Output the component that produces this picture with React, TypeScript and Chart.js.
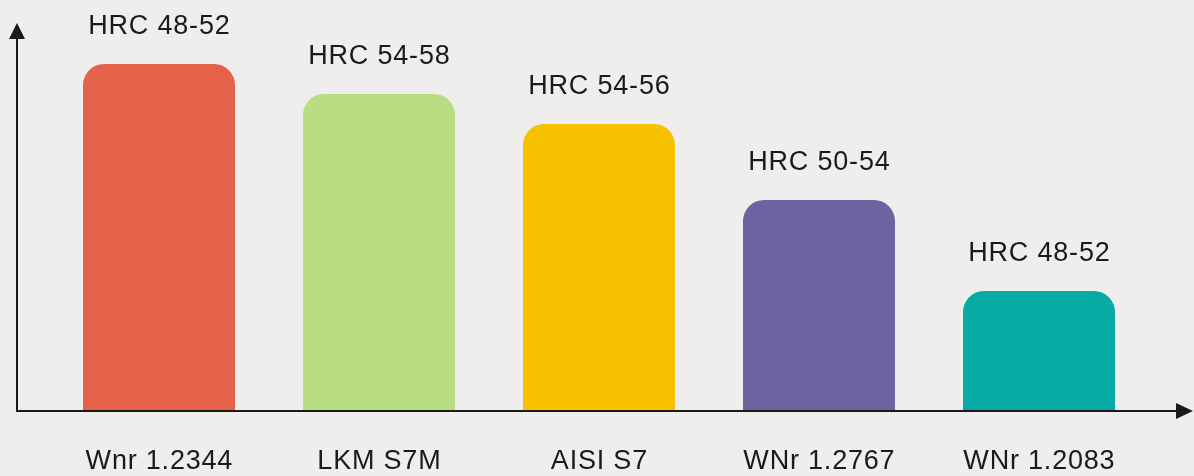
import React, { useEffect, useRef } from "react";
import { Chart, registerables } from "chart.js";

Chart.register(...registerables);

const categories = ["Wnr 1.2344", "LKM S7M", "AISI S7", "WNr 1.2767", "WNr 1.2083"];
const hardnessLabels = ["HRC 48-52", "HRC 54-58", "HRC 54-56", "HRC 50-54", "HRC 48-52"];
const values = [347, 317, 287, 211, 120];
const barColors = ["#e4614a", "#b8dd82", "#f6c200", "#6f62a0", "#06aba6"];

const BG = "#efeeed";
const INK = "#1c191a";
const FONT = "27px 'Liberation Sans', Arial, sans-serif";
const LS = 0.8;

const overlayPlugin = {
  id: "overlay",
  afterDatasetsDraw(chart: any) {
    const ctx = chart.ctx as CanvasRenderingContext2D;
    const xScale = chart.scales.x;
    const yScale = chart.scales.y;
    const y0 = yScale.getPixelForValue(0);
    const meta = chart.getDatasetMeta(0);

    // axes
    ctx.save();
    ctx.strokeStyle = INK;
    ctx.fillStyle = INK;
    ctx.lineWidth = 2;
    const axisX = 17;
    ctx.beginPath();
    ctx.moveTo(axisX, y0);
    ctx.lineTo(axisX, 36);
    ctx.moveTo(axisX - 1, y0);
    ctx.lineTo(1180, y0);
    ctx.stroke();
    // y arrow
    ctx.beginPath();
    ctx.moveTo(axisX, 23);
    ctx.lineTo(axisX - 8, 39);
    ctx.lineTo(axisX + 8, 39);
    ctx.closePath();
    ctx.fill();
    // x arrow
    ctx.beginPath();
    ctx.moveTo(1193, y0);
    ctx.lineTo(1176, y0 - 8);
    ctx.lineTo(1176, y0 + 8);
    ctx.closePath();
    ctx.fill();

    // labels
    ctx.font = FONT;
    (ctx as any).letterSpacing = LS + "px";
    ctx.textAlign = "center";
    ctx.textBaseline = "alphabetic";
    meta.data.forEach((bar: any, i: number) => {
      const cx = xScale.getPixelForValue(i) + LS / 2;
      ctx.fillText(hardnessLabels[i], cx, bar.y - 30);
      ctx.fillText(categories[i], cx, y0 + 58);
    });
    ctx.restore();
  },
};

export default function App() {
  const ref = useRef<HTMLCanvasElement | null>(null);
  useEffect(() => {
    document.body.style.margin = "0";
    document.body.style.background = BG;
    const chart = new Chart(ref.current as HTMLCanvasElement, {
      type: "bar",
      data: {
        labels: categories,
        datasets: [
          {
            data: values,
            backgroundColor: barColors,
            borderWidth: 0,
            borderRadius: { topLeft: 21, topRight: 21, bottomLeft: 0, bottomRight: 0 },
            borderSkipped: false,
            barPercentage: 1,
            categoryPercentage: 152 / 220,
          },
        ],
      },
      options: {
        animation: false,
        responsive: false,
        maintainAspectRatio: false,
        layout: { padding: { left: 49, right: 45, top: 23, bottom: 65 } },
        plugins: { legend: { display: false }, tooltip: { enabled: false } },
        scales: {
          x: { display: false },
          y: { display: false, min: 0, max: 388 },
        },
      },
      plugins: [overlayPlugin],
    });
    return () => chart.destroy();
  }, []);
  return (
    <div style={{ width: 1194, height: 476, background: BG }}>
      <canvas ref={ref} width={1194} height={476} style={{ display: "block" }} />
    </div>
  );
}
